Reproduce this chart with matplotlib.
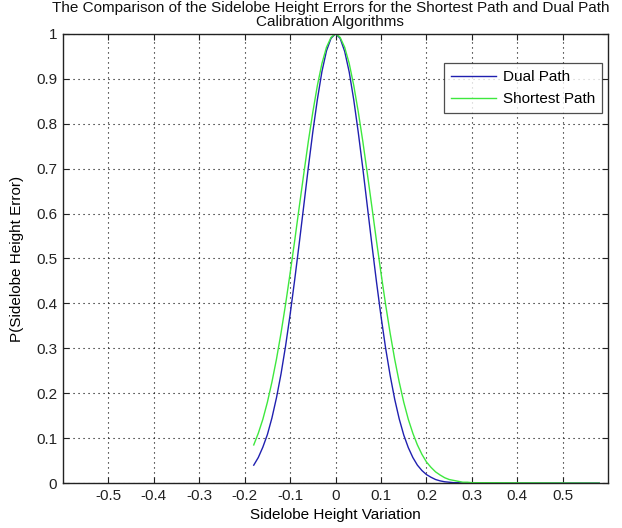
import matplotlib
matplotlib.use("Agg")
import matplotlib.pyplot as plt

# Sidelobe height variation sample points
x_vals = [-0.18, -0.17, -0.16, -0.15, -0.14, -0.13, -0.12, -0.11, -0.10, -0.09,
          -0.08, -0.07, -0.06, -0.05, -0.04, -0.03, -0.02, -0.01, 0.00, 0.01,
          0.02, 0.03, 0.04, 0.05, 0.06, 0.07, 0.08, 0.09, 0.10, 0.11,
          0.12, 0.13, 0.14, 0.15, 0.16, 0.17, 0.18, 0.19, 0.20, 0.21,
          0.22, 0.23, 0.24, 0.25, 0.26, 0.27, 0.28, 0.29, 0.30, 0.58]

# P(sidelobe height error) for the dual path calibration
dual_path = [0.040, 0.057, 0.080, 0.108, 0.145, 0.190, 0.243, 0.305, 0.375, 0.452,
             0.533, 0.617, 0.702, 0.782, 0.854, 0.916, 0.962, 0.990, 1.000, 0.990,
             0.961, 0.915, 0.853, 0.780, 0.700, 0.615, 0.530, 0.448, 0.371, 0.301,
             0.240, 0.187, 0.143, 0.107, 0.079, 0.057, 0.040, 0.028, 0.019, 0.013,
             0.008, 0.005, 0.003, 0.002, 0.001, 0.001, 0.000, 0.000, 0.000, 0.000]

# P(sidelobe height error) for the shortest path calibration
shortest_path = [0.085, 0.111, 0.142, 0.180, 0.225, 0.276, 0.334, 0.398, 0.467, 0.539,
                 0.614, 0.688, 0.760, 0.826, 0.885, 0.934, 0.970, 0.992, 1.000, 0.992,
                 0.970, 0.934, 0.885, 0.826, 0.760, 0.688, 0.614, 0.539, 0.467, 0.398,
                 0.334, 0.276, 0.225, 0.180, 0.142, 0.111, 0.085, 0.064, 0.047, 0.035,
                 0.025, 0.018, 0.012, 0.008, 0.006, 0.004, 0.002, 0.002, 0.001, 0.000]

x_ticks = [-0.5, -0.4, -0.3, -0.2, -0.1, 0, 0.1, 0.2, 0.3, 0.4, 0.5]
x_tick_labels = ["-0.5", "-0.4", "-0.3", "-0.2", "-0.1", "0", "0.1", "0.2", "0.3", "0.4", "0.5"]
y_ticks = [0, 0.1, 0.2, 0.3, 0.4, 0.5, 0.6, 0.7, 0.8, 0.9, 1.0]
y_tick_labels = ["0", "0.1", "0.2", "0.3", "0.4", "0.5", "0.6", "0.7", "0.8", "0.9", "1"]

plt.rcParams["font.family"] = ["Liberation Sans", "DejaVu Sans"]
FS = 11

fig = plt.figure(figsize=(6.22, 5.28), dpi=100, facecolor="white")
ax = fig.add_axes([0.101, 0.085, 0.877, 0.851])

ax.plot(x_vals, dual_path, color="#2020b0", lw=1.0, label="Dual Path")
ax.plot(x_vals, shortest_path, color="#3ee83e", lw=1.0, label="Shortest Path")

ax.set_xlim(-0.6, 0.6)
ax.set_ylim(0, 1)
ax.set_xticks(x_ticks)
ax.set_xticklabels(x_tick_labels)
ax.set_yticks(y_ticks)
ax.set_yticklabels(y_tick_labels)

ax.grid(True, color="black", linestyle=(0, (1, 3.5)), linewidth=0.8)
ax.tick_params(direction="in", top=True, right=True, length=4, width=0.8,
               labelsize=FS, colors="#222222", pad=4)
for s in ax.spines.values():
    s.set_linewidth(1.0)
    s.set_color("#222222")

ax.set_xlabel("Sidelobe Height Variation", fontsize=FS, labelpad=4)
ax.set_ylabel("P(Sidelobe Height Error)", fontsize=FS, labelpad=9)

# Two-line title placed above the axes box
fig.text(0.531, 0.999, "The Comparison of the Sidelobe Height Errors for the Shortest Path and Dual Path",
         fontsize=FS, ha="center", va="top", color="#111111")
fig.text(0.531, 0.971, "Calibration Algorithms",
         fontsize=FS, ha="center", va="top", color="#111111")

leg = ax.legend(loc="upper right", bbox_to_anchor=(0.989, 0.935), borderaxespad=0,
                fontsize=FS, frameon=True, fancybox=False,
                handlelength=2.95, borderpad=0.45,
                labelspacing=0.55, handletextpad=0.45)
leg.get_frame().set_edgecolor("#222222")
leg.get_frame().set_linewidth(0.9)

fig.savefig("out.png", dpi=100, facecolor="white")
